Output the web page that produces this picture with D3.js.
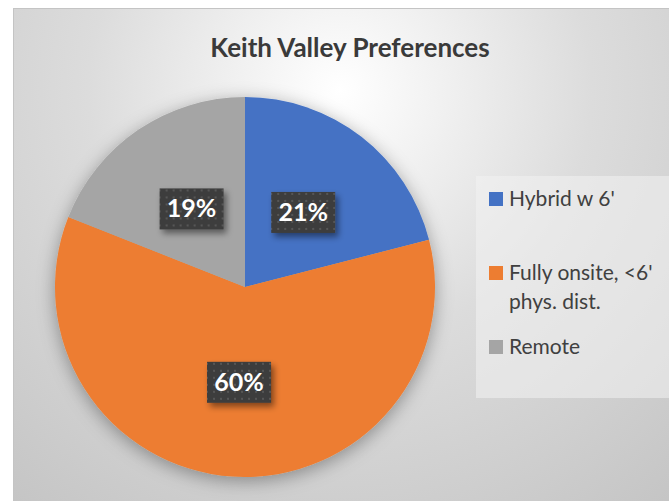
<!DOCTYPE html>
<html>
<head>
<meta charset="utf-8">
<script src="https://cdn.jsdelivr.net/npm/d3@7/dist/d3.min.js"></script>
<style>
  html, body { margin: 0; padding: 0; background: #fff; }
  svg { display: block; }
</style>
</head>
<body>
<svg id="chart" width="669" height="501"></svg>
<script>
'use strict';

// chart data
let categories = ["Hybrid w 6'", "Fully onsite, <6' phys. dist.", "Remote"],
    values = [21, 60, 19],
    colors = ["#4472C4", "#ED7D31", "#A5A5A5"];

let title = "Keith Valley Preferences";

let svg = d3.select("#chart"),
    W = +svg.attr("width"),
    H = +svg.attr("height");

let defs = svg.append("defs");

// background gradient, bright near the top centre
let bg = defs.append("radialGradient")
    .attr("id", "bgGrad")
    .attr("gradientUnits", "userSpaceOnUse")
    .attr("cx", 340).attr("cy", 90).attr("r", 560);
bg.append("stop").attr("offset", "0%").attr("stop-color", "#ffffff");
bg.append("stop").attr("offset", "45%").attr("stop-color", "#dcdcdc");
bg.append("stop").attr("offset", "100%").attr("stop-color", "#c2c2c2");

// dotted fill for the data labels
let pat = defs.append("pattern")
    .attr("id", "dots")
    .attr("patternUnits", "userSpaceOnUse")
    .attr("width", 7).attr("height", 7);
pat.append("rect").attr("width", 7).attr("height", 7).attr("fill", "#3d3d3d");
pat.append("rect").attr("x", 2).attr("y", 2).attr("width", 2).attr("height", 2).attr("fill", "#575757");

let pieShadow = defs.append("filter").attr("id", "pieShadow")
    .attr("x", "-20%").attr("y", "-20%").attr("width", "140%").attr("height", "140%");
pieShadow.append("feDropShadow")
    .attr("dx", 0).attr("dy", 4).attr("stdDeviation", 9)
    .attr("flood-color", "#000").attr("flood-opacity", 0.35);

let lblShadow = defs.append("filter").attr("id", "lblShadow")
    .attr("x", "-30%").attr("y", "-30%").attr("width", "160%").attr("height", "170%");
lblShadow.append("feDropShadow")
    .attr("dx", 3).attr("dy", 4).attr("stdDeviation", 3)
    .attr("flood-color", "#000").attr("flood-opacity", 0.45);

// chart area
svg.append("rect")
    .attr("x", 13.5).attr("y", 8.5)
    .attr("width", W).attr("height", H)
    .attr("fill", "url(#bgGrad)")
    .attr("stroke", "#c4c4c4");

svg.append("text")
    .attr("x", 350).attr("y", 57)
    .attr("text-anchor", "middle")
    .style("font-family", "Lato, 'Open Sans', sans-serif")
    .style("font-weight", "bold")
    .style("font-size", "26px")
    .attr("fill", "#3a3a3a")
    .text(title);

// pie
let cx = 245, cy = 287, radius = 190;

let pie = d3.pie().sort(null).value(function(d) { return d; });
let arc = d3.arc().innerRadius(0).outerRadius(radius);
let arcs = pie(values);

let g = svg.append("g").attr("transform", "translate(" + cx + "," + cy + ")");

g.append("g")
    .attr("filter", "url(#pieShadow)")
    .selectAll("path")
    .data(arcs)
    .enter().append("path")
    .attr("d", arc)
    .attr("fill", function(d, i) { return colors[i]; });

// data labels
let total = d3.sum(values);
let lbl = g.selectAll("g.lbl")
    .data(arcs)
    .enter().append("g")
    .attr("class", "lbl")
    .attr("transform", function(d) {
        let c = arc.centroid(d);
        return "translate(" + c[0] + "," + c[1] + ")";
    });

lbl.append("rect")
    .attr("x", -32).attr("y", -20)
    .attr("width", 64).attr("height", 41)
    .attr("fill", "url(#dots)")
    .attr("filter", "url(#lblShadow)");

lbl.append("text")
    .attr("text-anchor", "middle")
    .attr("y", 9)
    .style("font-family", "Lato, 'Open Sans', sans-serif")
    .style("font-weight", "bold")
    .style("font-size", "25px")
    .attr("fill", "#fff")
    .text(function(d) { return Math.round(d.value / total * 100) + "%"; });

// legend
let legend = svg.append("g");
legend.append("rect")
    .attr("x", 476).attr("y", 176)
    .attr("width", 210).attr("height", 222)
    .attr("fill", "#f2f2f2").attr("fill-opacity", 0.55);

let legendY = [198, 272, 346],
    maxTextW = 165;

categories.forEach(function(name, i) {
    let item = legend.append("g").attr("transform", "translate(489," + legendY[i] + ")");
    item.append("rect")
        .attr("x", 0).attr("y", -6)
        .attr("width", 14).attr("height", 14)
        .attr("fill", colors[i]);
    let txt = item.append("text")
        .attr("x", 20).attr("y", 8)
        .style("font-family", "Lato, 'Open Sans', sans-serif")
        .style("font-size", "21px")
        .attr("fill", "#404040");
    // wrap long names onto two lines
    let words = name.split(" "),
        line = [],
        tspan = txt.append("tspan").attr("x", 20);
    words.forEach(function(w) {
        line.push(w);
        tspan.text(line.join(" "));
        if (tspan.node().getComputedTextLength() > maxTextW && line.length > 1) {
            line.pop();
            tspan.text(line.join(" "));
            line = [w];
            tspan = txt.append("tspan").attr("x", 20).attr("dy", 29).text(w);
        }
    });
});
</script>
</body>
</html>
